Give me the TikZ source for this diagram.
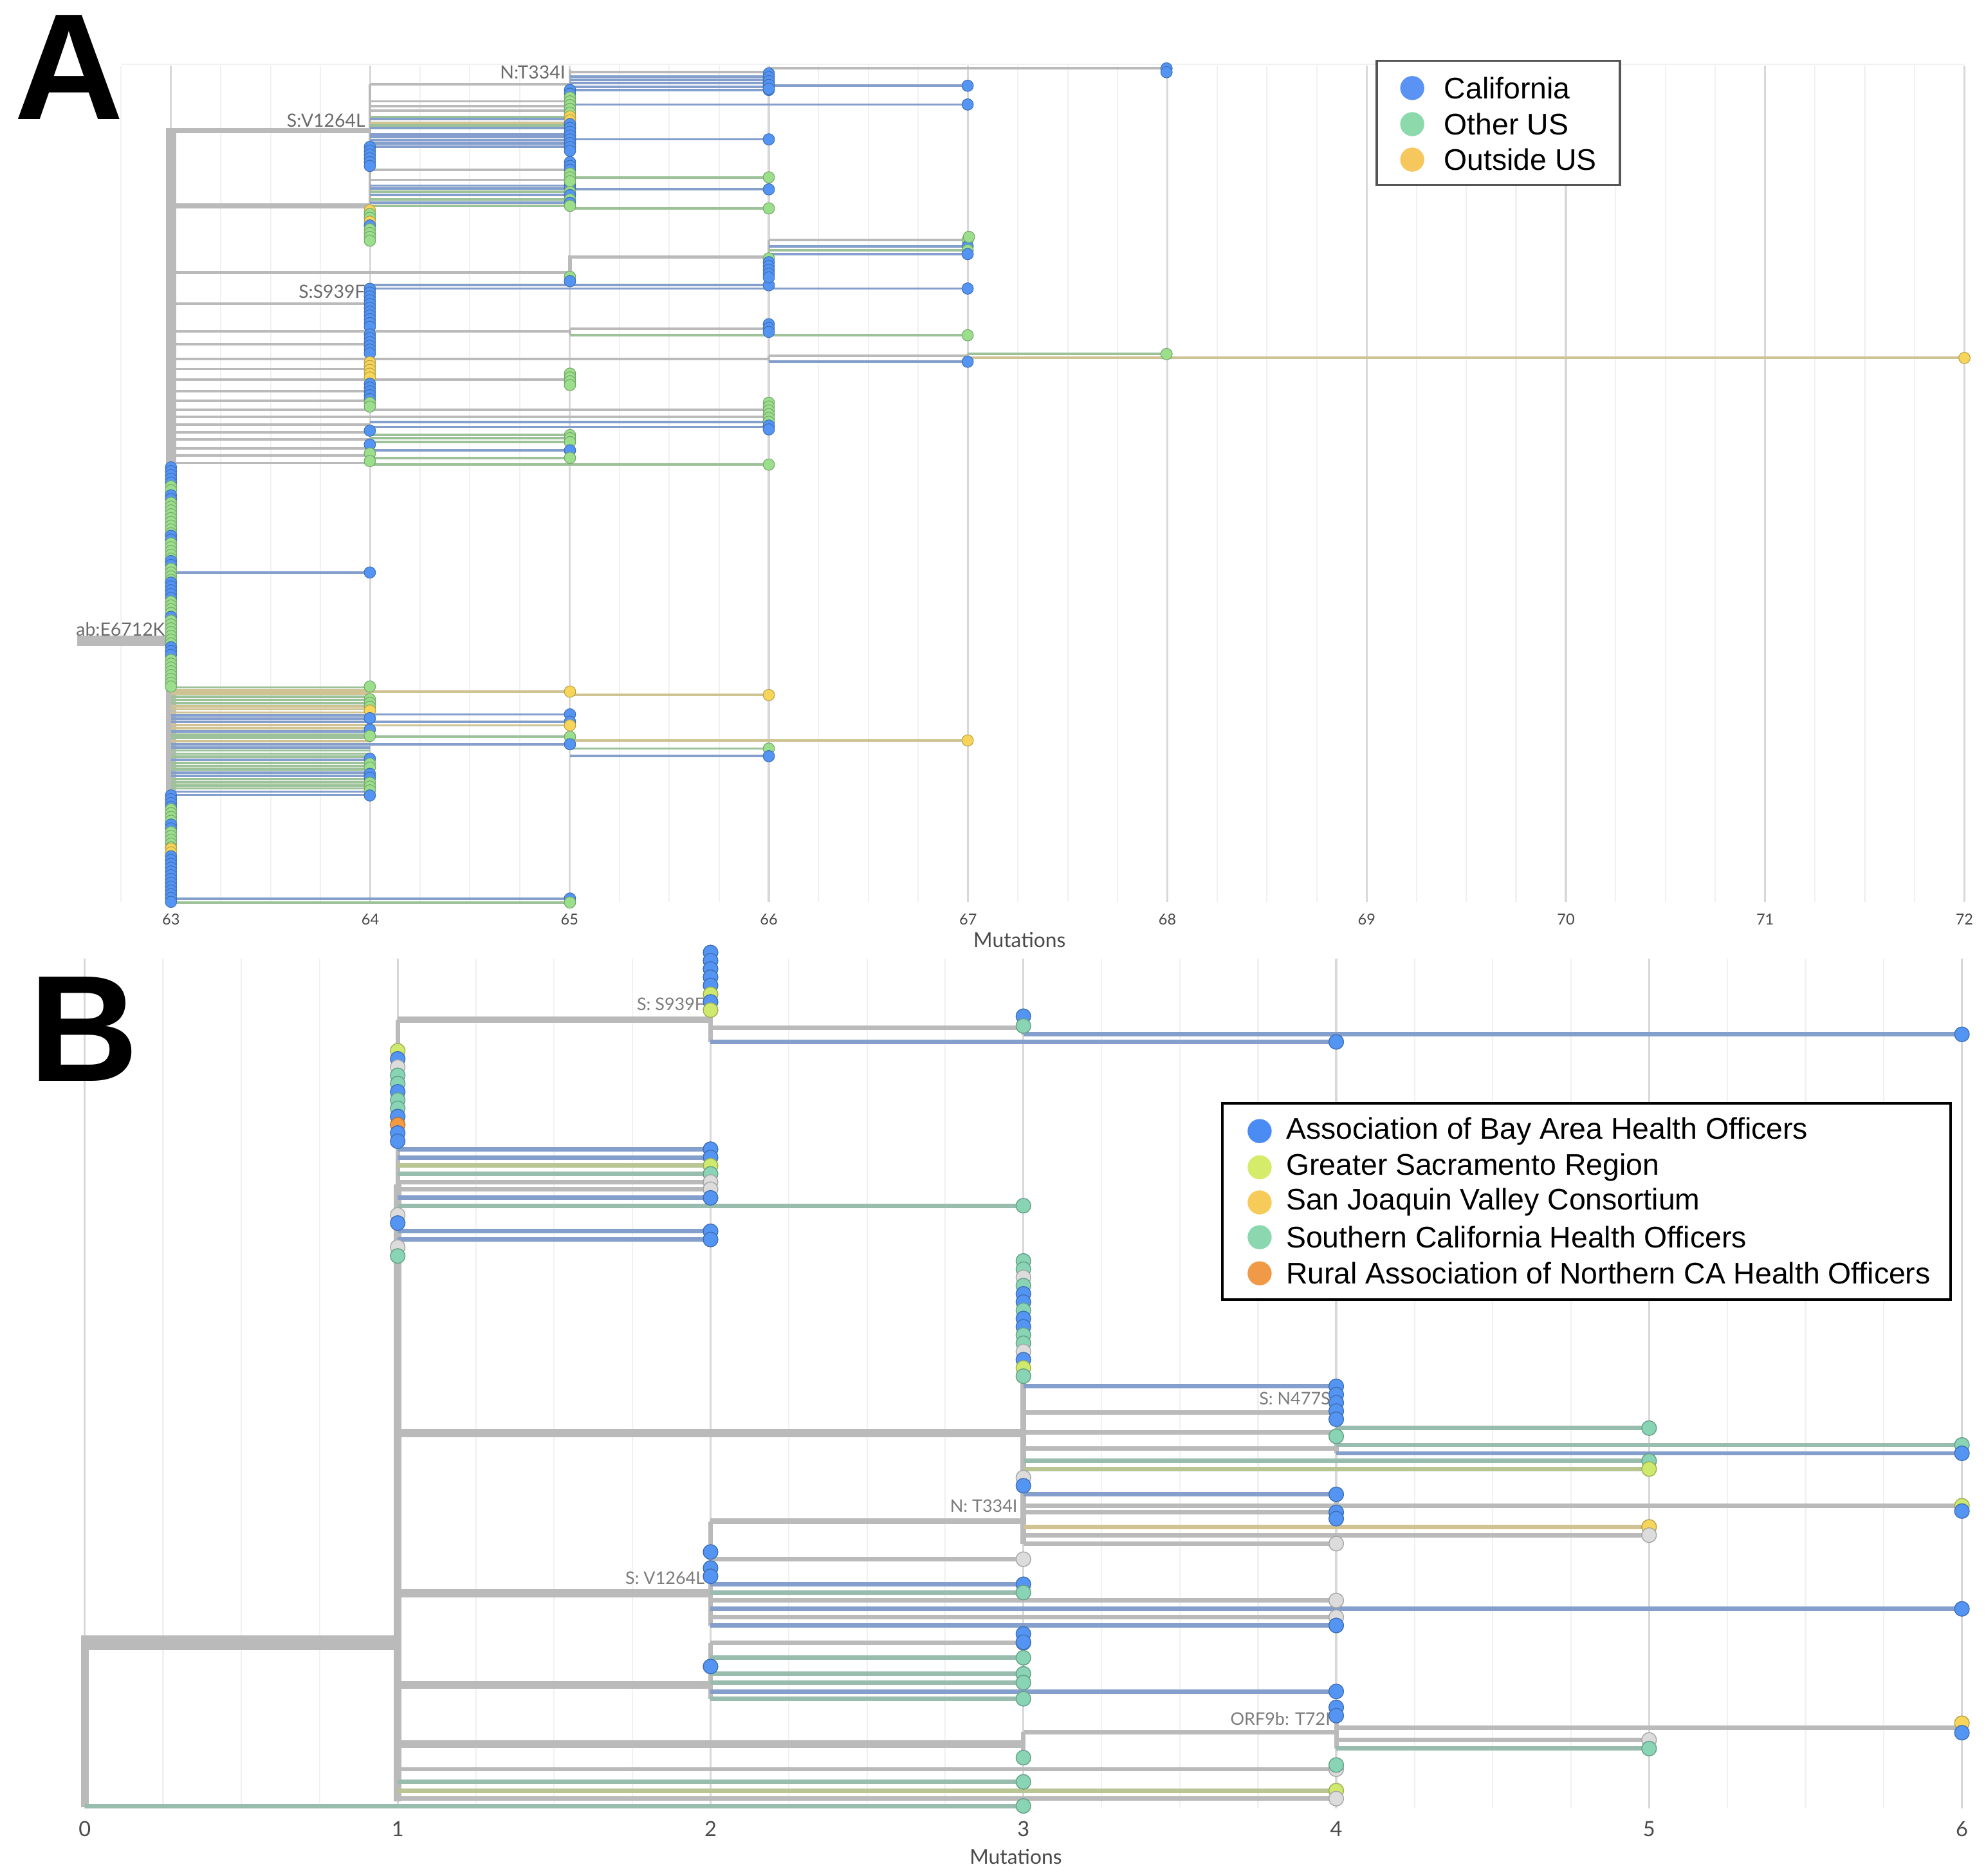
\documentclass[tikz,border=0pt]{standalone}
\usepackage{fontspec}
\setmainfont{Liberation Sans}
\newfontfamily\latofont{Lato}
\definecolor{gridmin}{HTML}{F1F1F1}
\definecolor{gridmaj}{HTML}{D8D8D8}
\definecolor{tickc}{HTML}{4A4A4A}
\definecolor{labA}{HTML}{6A6A6A}
\definecolor{labB}{HTML}{7C7C7C}
% dots
\definecolor{bd}{HTML}{5495F3}
\definecolor{gd}{HTML}{9BDE8C}
\definecolor{yd}{HTML}{F6D55A}
\definecolor{kd}{HTML}{DCDCDC}
\definecolor{td}{HTML}{88D4B4}
\definecolor{ld}{HTML}{CFE96E}
\definecolor{od}{HTML}{F39A45}
% lines
\definecolor{bl}{HTML}{849FCB}
\definecolor{gl}{HTML}{9DC299}
\definecolor{yl}{HTML}{CFC393}
\definecolor{kl}{HTML}{BABABA}
\definecolor{tl}{HTML}{98BCAD}
\definecolor{ll}{HTML}{B9C593}
% legends
\definecolor{lgCal}{HTML}{5B93F5}
\definecolor{lgOth}{HTML}{8CD9AC}
\definecolor{lgOut}{HTML}{F6C75C}
\definecolor{lgBay}{HTML}{4A8CF3}
\definecolor{lgSac}{HTML}{D4EC6A}
\definecolor{lgSjv}{HTML}{F6CB5A}
\definecolor{lgSoc}{HTML}{8BD7B0}
\definecolor{lgRur}{HTML}{F09A48}
\definecolor{legA}{HTML}{555555}

\begin{document}
\begin{tikzpicture}[x=0.1mm,y=-0.1mm,
	gmin/.style={draw=gridmin,line width=0.3pt},
	gmaj/.style={draw=gridmaj,line width=0.45pt},
	kA/.style={draw=kl,line width=0.55pt},
	aln/.style={draw=#1l,line width=0.55pt},
	adot/.style={fill=#1d,draw=#1d!75!black,line width=0.15pt},
	kB/.style={draw=kl,line width=1pt},
	bln/.style={draw=#1l,line width=1pt},
	bdot/.style={fill=#1d,draw=#1d!75!black,line width=0.2pt},
	tickA/.style={font=\latofont\fontsize{3.4}{4}\selectfont,text=tickc,inner sep=0pt},
	tickB/.style={font=\latofont\fontsize{4.7}{5.5}\selectfont,text=tickc,inner sep=0pt},
	axtitle/.style={font=\latofont\fontsize{4.6}{5.5}\selectfont,text=tickc,inner sep=0pt},
	mutA/.style={font=\latofont\fontsize{4.1}{5}\selectfont,text=labA,anchor=east,inner sep=0pt},
	mutB/.style={font=\latofont\fontsize{3.9}{5}\selectfont,text=labB,anchor=east,inner sep=0pt},
	legtxt/.style={font=\fontsize{6.7}{8}\selectfont,anchor=west,inner sep=0pt},
	panelltr/.style={font=\fontsize{34}{34}\selectfont\bfseries,inner sep=0pt}]
	\useasboundingbox[fill=white] (0,0) rectangle (1568,1481);
	\def\ra{0.45mm}	%dot radius, panel A
	\def\rb{0.58mm}	%dot radius, panel B

	%%%%%%%%%%%%%%%% panel A
	\foreach \i in {0,...,37} \draw[gmin] (95.7+39.33*\i,52) -- (95.7+39.33*\i,712);
	\foreach \i in {0,...,9} \draw[gmaj] (135+157.33*\i,52) -- (135+157.33*\i,712);
	\draw[gmin] (95.7,51) -- (1551,51);

	%trunk and internal branches
	\draw[kA,line width=2.3pt] (61,506) -- (135,506);
	\draw[kA,line width=2.3pt] (135,101) -- (135,713);
	\draw[kA,line width=1.1pt] (135,103) -- (292,103);
	\draw[kA,line width=1.1pt] (135,162.5) -- (292,162.5);
	\draw[kA,line width=0.8pt] (135,215) -- (450,215) -- (450,203) -- (607,203);
	\draw[kA] (292,66.5) -- (292,162.5) (292,66.5) -- (450,66.5);
	\draw[kA] (450,55) -- (450,121) (450,128) -- (450,165);
	\draw[kA] (450,57) -- (607,57) (607,54) -- (607,68) (607,54) -- (921,54);
	\foreach \y in {80,83.7,87.4,134,142} \draw[kA] (292,\y) -- (450,\y);
	\draw[kA] (607,189.6) -- (607,218) (450,203) -- (450,222) (292,225) -- (292,260);
	\draw[kA] (135,261.6) -- (450,261.6) (450,259.7) -- (450,264.7) (450,259.7) -- (607,259.7);
	\draw[kA] (135,283.6) -- (607,283.6) (607,280.7) -- (607,285.6) (607,280.7) -- (764,280.7) (764,279.5) -- (764,282.6);
	\foreach \y in {239.6,271.8,291.3,309,316.6,335.3,341.2,347.1,353.9,359.8,365.4} \draw[kA] (135,\y) -- (292,\y);
	\draw[kA] (135,299.7) -- (450,299.7);
	\foreach \y in {323.4,329.3} \draw[kA] (135,\y) -- (607,\y);

	%dense clade off the trunk
	\foreach \y/\cc in {542.7/g,545/y,547.5/y,550/g,552.5/g,555/g,557.5/y,560/y,562.5/y,565/b,567.5/b,570/b,572.5/y,575/y,577.5/b,580/g,582.5/g,585/y,587.5/b,590/b,592.5/g,595/g,597.5/g,600/b,602.5/g,605/g,607.5/g,610/b,612.5/b,615/g,617.5/g,620/g,622.5/g,625/b,627.5/b}
		\draw[aln=\cc] (135,\y) -- (292,\y);

	%tips: from/to/y/line/dot
	\def\leafsA{292/450/92.3/g/g,292/450/94/b/b,292/450/97.2/y/y,292/450/99/g/g,292/450/101/b/b,292/450/106/b/b,292/450/108.3/b/b,292/450/110.8/b/b,292/450/113.2/b/b,292/450/115.7/b/b,
		292/450/146.5/b/b,292/450/149/b/b,292/450/151.4/g/g,292/450/154/b/b,292/450/157.5/g/g,292/450/160/b/b,292/450/162.5/g/g,
		450/607/60.5/b/b,450/607/63/b/b,450/607/65.5/b/b,450/607/68.5/b/b,450/607/71/b/b,607/764/67.7/b/b,607/921/54/k/b,
		450/764/82.5/b/b,450/607/110/b/b,450/607/140/g/g,450/607/149.5/b/b,450/607/164.5/g/g,
		607/764/189.6/k/g,607/764/194.5/b/b,607/764/197.5/g/g,607/764/200.6/b/b,292/607/225.2/b/b,292/764/227.8/b/b,
		450/764/264.7/g/g,607/764/285.6/b/b,764/921/279.5/g/g,764/1551/282.6/y/y,
		292/607/333/b/b,292/607/337/b/b,292/450/343.5/g/g,292/450/346/g/g,292/450/349/g/g,292/450/355.6/b/b,292/450/361.5/g/g,292/607/366.8/g/g,
		135/292/452/b/b,135/450/546/y/y,450/607/548.7/y/y,292/450/564/b/b,292/450/569.8/b/b,135/450/572.7/y/y,135/450/581.7/g/g,
		450/764/584.6/y/y,135/450/587.6/b/b,450/607/591/g/g,450/607/597/b/b,135/450/709.4/b/b,135/450/712.5/g/g}
	\foreach \xa/\xb/\y/\lc/\dc in \leafsA \draw[aln=\lc] (\xa,\y) -- (\xb,\y);
	\foreach \xa/\xb/\y/\lc/\dc in \leafsA \path[adot=\dc] (\xb,\y) circle[radius=\ra];

	%stacked tips: x/first y/count/colour
	\foreach \x/\y/\n/\cc in {450/71/2/b,450/77/5/g,450/92/2/y,450/98/8/b,450/128/3/b,450/137/3/g,
		292/116/6/b,292/166/1/y,292/169/2/g,292/175/1/y,292/178/1/b,292/181/4/g,
		607/58/5/b,921/57/1/b,765/187/1/g,607/204/1/g,607/207/5/b,450/218.5/1/g,450/222/1/b,
		292/228/11/b,607/256/3/b,292/264/6/b,292/286/5/y,450/295/4/g,292/303/5/b,292/318/2/g,
		607/318/6/g,607/336/2/b,292/340/1/b,292/351/1/b,292/358/1/g,292/364/1/g,
		135/369/5/b,135/384/2/g,135/391/2/b,135/397/9/g,135/423/2/b,135/429/5/g,135/443/2/b,135/449/4/g,
		135/460/5/b,135/475/4/g,135/487/1/b,135/490/7/g,135/511/3/b,135/521/8/g,
		135/628/4/b,135/639/4/g,135/651/2/b,135/657/5/g,135/670/2/y,135/676/13/b,
		292/542/1/g,292/552/3/g,292/561/1/y,292/567/1/b,292/576/1/b,292/581/1/g,292/599/1/b,292/603/2/g,
		292/611/2/b,292/618/3/g,292/628/1/b}
		\foreach \i in {1,...,\n} \path[adot=\cc] (\x,\y+3*\i-3) circle[radius=\ra];

	%labels
	\node[mutA] (mN334) at (447,57) {N:T334I};
	\node[mutA] (mV1264) at (289,95) {S:V1264L};
	\node[mutA] (mS939) at (289,230) {S:S939F};
	\node[mutA] (mE6712) at (131,497) {ab:E6712K};
	\foreach \m [count=\i from 0] in {63,...,72} \node[tickA] (tA\m) at (135+157.33*\i,726) {\m};
	\node[axtitle] (xA) at (805,742) {Mutations};
	\node[panelltr] (pA) at (54.5,53) {A};

	%legend
	\draw[fill=white,draw=legA,line width=0.5pt] (1087,48) rectangle (1279,146);
	\foreach \y/\cc/\t [count=\k] in {69.5/lgCal/California,98/lgOth/Other US,126/lgOut/Outside US}{
		\fill[\cc] (1115,\y) circle[radius=0.95mm];
		\node[legtxt] (legA\k) at (1139.5,\y) {\t};
	}

	%%%%%%%%%%%%%%%% panel B
	\foreach \i in {0,...,24} \draw[gmin] (67+61.75*\i,757) -- (67+61.75*\i,1428);
	\foreach \i in {0,...,6} \draw[gmaj] (67+247*\i,757) -- (67+247*\i,1428);

	\draw[kB,line width=3.2pt] (67,1297) -- (314,1297);	%root
	\draw[kB,line width=1.8pt] (67,1291) -- (67,1427);
	\draw[kB] (314,805) -- (314,938);
	\draw[kB,line width=1.8pt] (314,935) -- (314,1422);
	\draw[kB,line width=1.4pt] (314,805) -- (561,805);
	\draw[kB] (561,752) -- (561,822.6) (561,811.4) -- (808,811.4) (808,802) -- (808,816.6);
	\draw[kB,line width=1.8pt] (314,1131.5) -- (808,1131.5);
	\draw[kB,line width=1.3pt] (808,995) -- (808,1219);
	\draw[kB] (808,1115) -- (1055,1115) (808,1130.7) -- (1055,1130.7) (1055,1127.5) -- (1055,1147.4) (808,1143.4) -- (1055,1143.4);
	\draw[kB] (808,1188.8) -- (1055,1188.8) (1055,1185) -- (1055,1194);
	\draw[kB,line width=1.4pt] (561,1201) -- (808,1201);
	\draw[kB] (561,1201) -- (561,1283.3);
	\draw[kB,line width=1.8pt] (314,1257.8) -- (561,1257.8);
	\draw[kB,line width=1.8pt] (314,1330.3) -- (561,1330.3);
	\draw[kB] (561,1297) -- (561,1341.2);
	\draw[kB,line width=1.8pt] (314,1377) -- (808,1377);
	\draw[kB] (808,1367.4) -- (808,1388) (808,1367.4) -- (1055,1367.4) (1055,1348) -- (1055,1380.5) (1055,1364) -- (1549,1364);

	\def\leafsB{561/1055/822.6/b/b,808/1549/816.6/b/b,
		314/561/907.3/b/b,314/561/913.8/b/b,314/561/920.3/l/l,314/561/926.8/t/t,314/561/933.2/k/k,314/561/938.9/k/k,314/561/945.7/b/b,314/808/951.9/t/t,314/561/972.1/b/b,314/561/978.6/b/b,
		808/1055/1094.5/b/b,1055/1302/1127.5/t/t,1055/1549/1140.8/t/t,1055/1549/1147.4/b/b,
		808/1302/1153.4/t/t,808/1302/1159.8/l/l,808/1055/1179.8/b/b,1055/1549/1188.8/k/l,808/1055/1194/k/b,
		808/1302/1205.5/y/y,808/1302/1212/k/k,808/1055/1218.7/k/k,
		561/808/1231/k/k,561/808/1250.8/b/b,561/808/1257.3/t/t,561/1055/1263.6/k/k,561/1549/1270.2/b/b,561/1055/1276.8/k/k,561/1055/1283.3/b/b,
		561/808/1297/k/b,561/808/1308.8/t/t,561/808/1321.5/t/t,561/808/1328.4/t/t,561/1055/1335.4/b/b,561/808/1341.2/t/t,
		1055/1302/1373.7/k/k,1055/1302/1380.5/t/t,
		314/1055/1396.8/k/k,314/808/1406.8/t/t,314/1055/1413.7/l/l,314/1055/1420/k/k,67/808/1425.8/t/t}
	\foreach \xa/\xb/\y/\lc/\dc in \leafsB \draw[bln=\lc] (\xa,\y) -- (\xb,\y);
	\foreach \xa/\xb/\y/\lc/\dc in \leafsB \path[bdot=\dc] (\xb,\y) circle[radius=\rb];

	\foreach \x/\y/\n/\cc in {561/752/5/b,561/785/1/l,561/791/1/b,561/797.5/1/l,808/802.3/1/b,808/810/1/t,
		314/829.6/1/l,314/836/1/b,314/842.5/1/k,314/849/2/t,314/862/1/b,314/868.5/2/t,314/881.5/1/b,314/888/1/o,314/894.5/2/b,
		314/959.2/1/k,314/965.6/1/b,314/984.6/1/k,314/991.6/1/t,
		808/995.5/2/t,808/1008.5/1/k,808/1015/1/t,808/1021.5/2/b,808/1034.5/1/t,808/1041/2/b,808/1054/2/t,808/1067/1/k,808/1073.5/1/b,808/1080/1/l,808/1086.5/1/t,
		1055/1101/4/b,1055/1134/1/t,808/1166.6/1/k,808/1173/1/b,1549/1193/1/b,1055/1199/1/b,
		561/1225.3/1/b,561/1238/2/b,808/1290/2/b,561/1315.7/1/b,1055/1348/2/b,1549/1360.5/1/y,1549/1368/1/b,808/1387.7/1/t,1055/1393.5/1/t}
		\foreach \i in {1,...,\n} \path[bdot=\cc] (\x,\y+6.5*\i-6.5) circle[radius=\rb];

	\node[mutB] (mS939B) at (557,793) {S: S939F};
	\node[mutB] (mN477B) at (1051,1104) {S: N477S};
	\node[mutB] (mN334B) at (804,1189) {N: T334I};
	\node[mutB] (mV1264B) at (557,1246) {S: V1264L};
	\node[mutB] (mT72B) at (1051,1357) {ORF9b: T72I};
	\foreach \m in {0,...,6} \node[tickB] (tB\m) at (67+247*\m,1444) {\m};
	\node[axtitle] (xB) at (802,1466) {Mutations};
	\node[panelltr] (pB) at (66.5,812.5) {B};

	%legend
	\draw[fill=white,draw=black,line width=0.6pt] (965,871) rectangle (1540,1026);
	\foreach \y/\cc/\t [count=\k] in {893/lgBay/Association of Bay Area Health Officers,921.6/lgSac/Greater Sacramento Region,949.3/lgSjv/San Joaquin Valley Consortium,976.8/lgSoc/Southern California Health Officers,1005.3/lgRur/Rural Association of Northern CA Health Officers}{
		\fill[\cc] (994.5,\y) circle[radius=0.95mm];
		\node[legtxt] (legB\k) at (1014.8,\y) {\t};
	}
\end{tikzpicture}
\end{document}
